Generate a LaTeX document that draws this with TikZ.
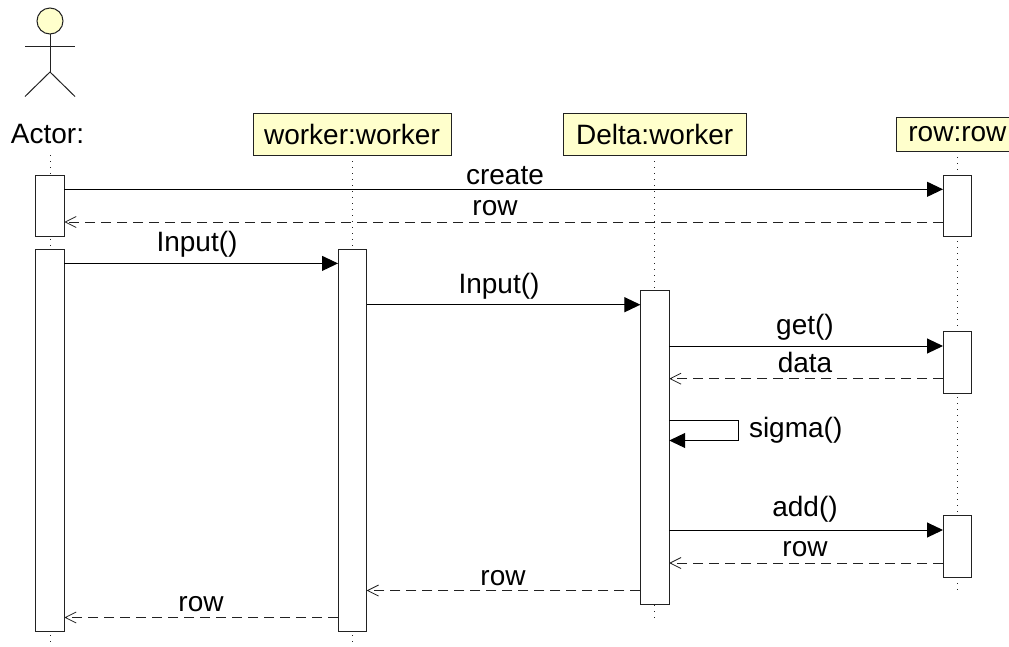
\documentclass[tikz,border=0pt]{standalone}
\usepackage{fontspec}
\setmainfont{Liberation Sans}
\usetikzlibrary{arrows.meta}
\definecolor{headfill}{HTML}{FFFFCC}
\definecolor{ink}{HTML}{222222}
\tikzset{
  label text/.style={font=\fontsize{28}{32}\selectfont, inner sep=0pt, outer sep=0pt, anchor=base, text=black},
  head box/.style={draw=ink, fill=headfill, line width=1pt, inner sep=0pt, outer sep=0pt, font=\fontsize{28}{32}\selectfont},
  bar/.style={draw=ink, fill=white, line width=1pt, inner sep=0pt, outer sep=0pt},
  life/.style={draw=ink, line width=0.9pt, dash pattern=on 1pt off 5pt},
  stick/.style={draw=ink, line width=1pt},
  msg/.style={draw=black, line width=1pt, -{Triangle[length=16pt,width=15pt]}},
  reply/.style={draw=ink, line width=1pt, dash pattern=on 10pt off 6pt, -{Straight Barb[length=11pt,width=11pt,line width=0.8pt]}}
}
\newcommand{\activation}[5]{%
  \node[bar, minimum width=#4pt-#2pt, minimum height=#5pt-#3pt] (#1) at ({(#2+#4)/2},{(#3+#5)/2}) {};}
\begin{document}
\begin{tikzpicture}[x=1pt,y=-1pt]
\useasboundingbox (0,0) rectangle (1009,646);
\clip (0,0) rectangle (1009,646);
% actor figure
\node[draw=ink, fill=headfill, circle, line width=1pt, minimum size=26pt, inner sep=0pt, outer sep=0pt] (head) at (50,21) {};
\coordinate (hip) at (50,72);
\coordinate (armL) at (25,46.5);
\coordinate (armR) at (75,46.5);
\coordinate (legL) at (25,96.5);
\coordinate (legR) at (75,96.5);
\draw[stick] (head.south) -- (hip);
\draw[stick] (armL) -- (armR);
\draw[stick] (legL) -- (hip) -- (legR);
\node[label text] (actor) at (47.5,143) {Actor:};
% heads
\node[head box, minimum width=198pt, minimum height=41.4pt] (wk) at (352,134.4) {worker:worker};
\node[head box, minimum width=183pt, minimum height=41.4pt] (dl) at (654.7,134.4) {Delta:worker};
\node[head box, minimum width=121.4pt, minimum height=33.4pt] (rw) at (957.4,134.4) {row:row};
% lifelines
\coordinate (actorTop) at (50,155);
\coordinate (actorEnd) at (50,642);
\coordinate (wkEnd) at (352,642);
\coordinate (dlEnd) at (654.7,622);
\coordinate (rwEnd) at (957.4,593);
\draw[life] (actorTop) -- (actorEnd);
\draw[life] (wk.south) -- (wkEnd);
\draw[life] (dl.south) -- (dlEnd);
\draw[life] (rw.south) -- (rwEnd);
% activations
\activation{aA}{35.7}{175}{64.3}{236.5}
\activation{aB}{35.7}{249}{64.3}{631.8}
\activation{wA}{338}{249}{366.7}{631.8}
\activation{dA}{640.4}{290.4}{669.2}{604.4}
\activation{rA}{943}{175}{971.7}{236.6}
\activation{rB}{943}{331.4}{971.7}{393.2}
\activation{rC}{943}{515.4}{971.7}{577}
% messages
\draw[msg] (aA.east |- 0,189.3) -- (rA.west |- 0,189.3);
\draw[reply] (rA.west |- 0,222) -- (aA.east |- 0,222);
\draw[msg] (aB.east |- 0,263.4) -- (wA.west |- 0,263.4);
\draw[msg] (wA.east |- 0,304.7) -- (dA.west |- 0,304.7);
\draw[msg] (dA.east |- 0,346) -- (rB.west |- 0,346);
\draw[reply] (rB.west |- 0,378.7) -- (dA.east |- 0,378.7);
\coordinate (loopA) at (738,420);
\coordinate (loopB) at (738,440.5);
\draw[msg] (dA.east |- loopA) -- (loopA) -- (loopB) -- (dA.east |- loopB);
\draw[msg] (dA.east |- 0,530) -- (rC.west |- 0,530);
\draw[reply] (rC.west |- 0,563) -- (dA.east |- 0,563);
\draw[reply] (dA.west |- 0,590.5) -- (wA.east |- 0,590.5);
\draw[reply] (wA.west |- 0,617.5) -- (aB.east |- 0,617.5);
% labels
\node[label text] (t1) at (505,184) {create};
\node[label text] (t2) at (495,215) {row};
\node[label text] (t3) at (197,251.7) {Input()};
\node[label text] (t4) at (499,293.5) {Input()};
\node[label text] (t5) at (805,334) {get()};
\node[label text] (t6) at (805,372.7) {data};
\node[label text, anchor=base west] (t7) at (749,437.7) {sigma()};
\node[label text] (t8) at (805,516.7) {add()};
\node[label text] (t9) at (805,556.7) {row};
\node[label text] (t10) at (503,585) {row};
\node[label text] (t11) at (201,611.7) {row};
\end{tikzpicture}
\end{document}
